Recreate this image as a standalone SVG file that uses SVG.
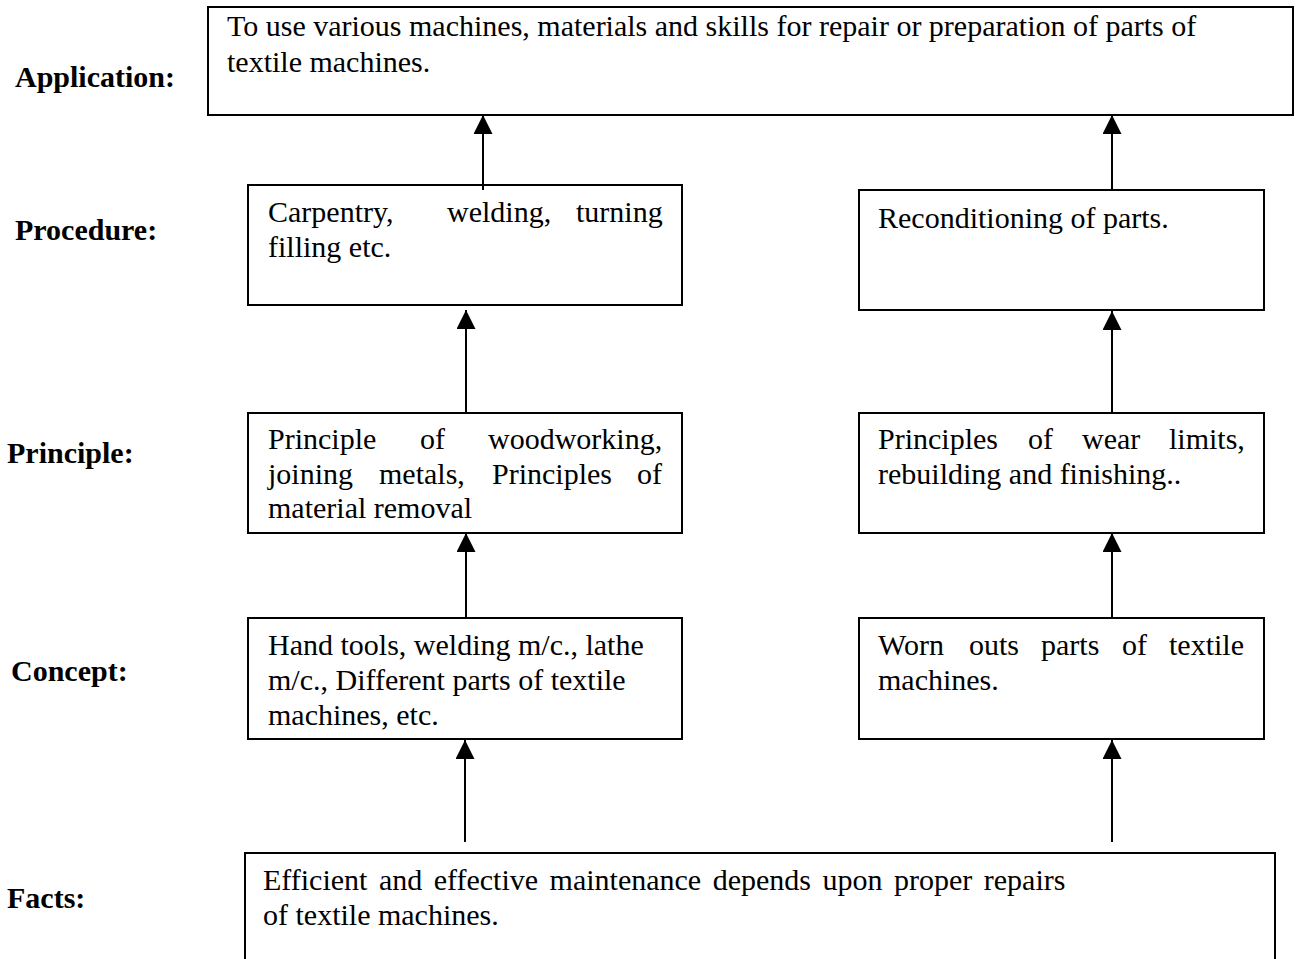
<svg xmlns="http://www.w3.org/2000/svg" width="1296" height="959" viewBox="0 0 1296 959">
<style>
.box{fill:#fff;stroke:#000;stroke-width:2}
.t{font-family:"Liberation Serif","Times New Roman",serif;font-size:30px;fill:#000}
.lbl{font-family:"Liberation Serif","Times New Roman",serif;font-size:30px;font-weight:bold;fill:#000}
.conn{stroke:#000;stroke-width:2;fill:none;marker-end:url(#ah)}
</style>
<defs>
<marker id="ah" markerUnits="userSpaceOnUse" markerWidth="19" markerHeight="19" refX="19" refY="9.5" orient="auto">
<path d="M0,0 L19,9.5 L0,19 z" fill="#000"/>
</marker>
</defs>
<rect width="1296" height="959" fill="#fff"/>

<g id="labels">
<text id="lbl-application" class="lbl" x="15" y="87">Application:</text>
<text id="lbl-procedure" class="lbl" x="15" y="240">Procedure:</text>
<text id="lbl-principle" class="lbl" x="7" y="463">Principle:</text>
<text id="lbl-concept" class="lbl" x="11" y="681">Concept:</text>
<text id="lbl-facts" class="lbl" x="7" y="908">Facts:</text>
</g>

<g id="application">
<rect class="box" x="208" y="7" width="1085" height="108"/>
<text class="t" x="227" y="36">To use various machines, materials and skills for repair or preparation of parts of</text>
<text class="t" x="227" y="72">textile machines.</text>
</g>

<g id="procedure-left">
<rect class="box" x="248" y="185" width="434" height="120"/>
<text class="t" y="222"><tspan x="268">Carpentry,</tspan><tspan x="447">welding,</tspan><tspan x="576">turning</tspan></text>
<text class="t" x="268" y="257">filling etc.</text>
</g>

<g id="procedure-right">
<rect class="box" x="859" y="190" width="405" height="120"/>
<text class="t" x="878" y="228">Reconditioning of parts.</text>
</g>

<g id="principle-left">
<rect class="box" x="248" y="413" width="434" height="120"/>
<text class="t" y="449"><tspan x="268">Principle</tspan><tspan x="420">of</tspan><tspan x="488">woodworking,</tspan></text>
<text class="t" y="484"><tspan x="268">joining</tspan><tspan x="379">metals,</tspan><tspan x="492">Principles</tspan><tspan x="637">of</tspan></text>
<text class="t" x="268" y="518">material removal</text>
</g>

<g id="principle-right">
<rect class="box" x="859" y="413" width="405" height="120"/>
<text class="t" y="449"><tspan x="878">Principles</tspan><tspan x="1028">of</tspan><tspan x="1082">wear</tspan><tspan x="1169">limits,</tspan></text>
<text class="t" x="878" y="484">rebuilding and finishing..</text>
</g>

<g id="concept-left">
<rect class="box" x="248" y="618" width="434" height="121"/>
<text class="t" x="268" y="655">Hand tools, welding m/c., lathe</text>
<text class="t" x="268" y="690">m/c., Different parts of textile</text>
<text class="t" x="268" y="725">machines, etc.</text>
</g>

<g id="concept-right">
<rect class="box" x="859" y="618" width="405" height="121"/>
<text class="t" y="655"><tspan x="878">Worn</tspan><tspan x="969">outs</tspan><tspan x="1041">parts</tspan><tspan x="1122">of</tspan><tspan x="1169">textile</tspan></text>
<text class="t" x="878" y="690">machines.</text>
</g>

<g id="facts">
<rect class="box" x="245" y="853" width="1030" height="130"/>
<text class="t" x="263" y="890" word-spacing="4">Efficient and effective maintenance depends upon proper repairs</text>
<text class="t" x="263" y="925">of textile machines.</text>
</g>

<g id="connectors">
<line class="conn" x1="483" y1="190" x2="483" y2="115"/>
<line class="conn" x1="1112" y1="190" x2="1112" y2="115"/>
<line class="conn" x1="466" y1="413" x2="466" y2="310"/>
<line class="conn" x1="1112" y1="413" x2="1112" y2="311"/>
<line class="conn" x1="466" y1="618" x2="466" y2="533"/>
<line class="conn" x1="1112" y1="618" x2="1112" y2="533"/>
<line class="conn" x1="465" y1="842" x2="465" y2="740"/>
<line class="conn" x1="1112" y1="842" x2="1112" y2="740"/>
</g>
</svg>
